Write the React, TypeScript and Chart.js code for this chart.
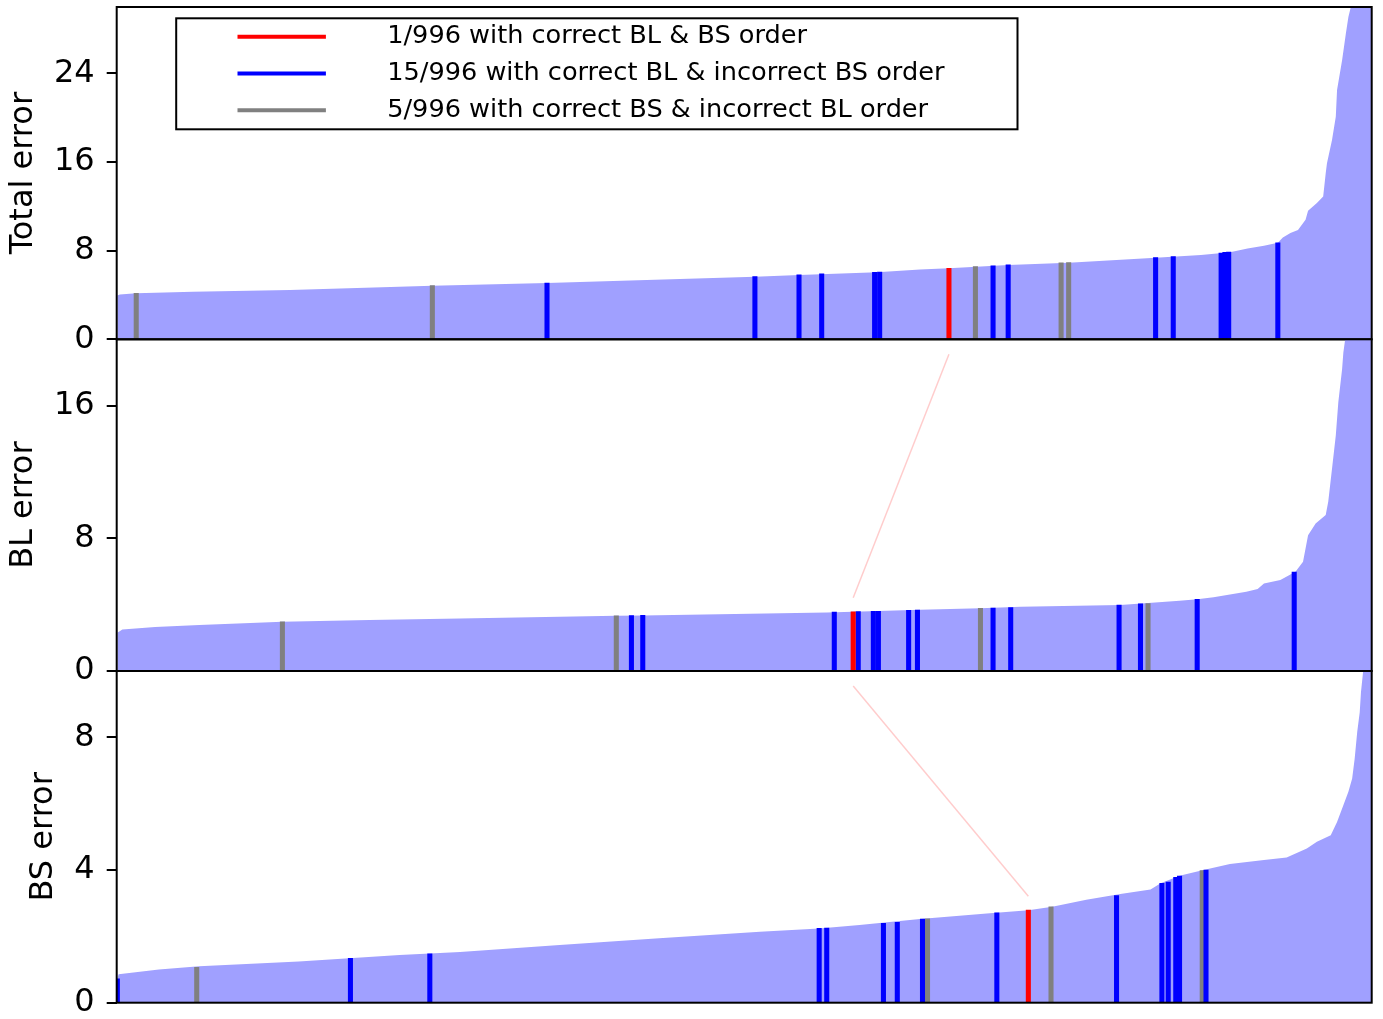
import React, { useEffect, useRef } from 'react';
import { Chart, registerables } from 'chart.js';

Chart.register(...registerables);

// ---------------- data (sample index -> sorted error) ----------------
// Panel 1: Total error
const totalIdx = [0, 2, 15, 60, 137, 250, 341, 420, 506, 541, 603, 637, 660, 707, 755, 824, 860, 883, 897, 910, 921, 925, 931, 937, 943, 945, 952, 957, 959, 960, 964, 967, 968, 972, 975, 977, 980, 988, 995];
const totalVal = [3.95, 4.05, 4.15, 4.3, 4.45, 4.84, 5.08, 5.35, 5.65, 5.8, 6.05, 6.3, 6.41, 6.7, 6.92, 7.36, 7.62, 7.85, 8.2, 8.45, 8.72, 9.2, 9.6, 9.86, 10.8, 11.6, 12.3, 12.9, 15.0, 15.9, 18.0, 20.1, 22.5, 25.2, 27.6, 29.1, 30.5, 33, 38];

// Panel 2: BL error
const blIdx = [0, 4, 30, 65, 131, 200, 272, 396, 417, 563, 584, 637, 685, 717, 796, 843, 857, 870, 896, 905, 910, 923, 935, 941, 945, 951, 959, 961, 964, 967, 969, 972, 973, 975, 995];
const blVal = [2.3, 2.5, 2.65, 2.77, 2.97, 3.08, 3.17, 3.33, 3.35, 3.53, 3.57, 3.7, 3.78, 3.87, 3.98, 4.23, 4.32, 4.45, 4.78, 4.95, 5.28, 5.48, 5.98, 6.58, 8.19, 8.9, 9.4, 10.2, 12.2, 14.2, 16.2, 18.2, 19.2, 20.3, 26];

// Panel 3: BS error
const bsIdx = [0, 1, 33, 65, 144, 224, 272, 351, 430, 510, 557, 589, 637, 690, 723, 742, 769, 796, 820, 828, 843, 862, 883, 910, 928, 944, 952, 963, 968, 973, 977, 980, 982, 984, 986, 987, 989, 995];
const bsVal = [0.72, 0.86, 1.0, 1.1, 1.24, 1.44, 1.53, 1.74, 1.94, 2.14, 2.24, 2.34, 2.52, 2.69, 2.79, 2.89, 3.1, 3.28, 3.41, 3.6, 3.83, 4.0, 4.18, 4.3, 4.38, 4.65, 4.85, 5.05, 5.45, 5.95, 6.36, 6.76, 7.36, 8.16, 8.76, 9.37, 10.1, 13];

// Highlighted samples
const totalRedIdx = [660];
const totalRedVal = [6.41];
const totalBlueIdx = [341, 506, 541, 559, 601, 605, 695, 707, 824, 838, 876, 879, 882, 921];
const totalBlueVal = [5.08, 5.66, 5.82, 5.9, 6.05, 6.07, 6.64, 6.72, 7.38, 7.47, 7.78, 7.85, 7.87, 8.72];
const totalGrayIdx = [15, 250, 681, 749, 755];
const totalGrayVal = [4.15, 4.84, 6.56, 6.9, 6.93];

const blRedIdx = [584];
const blRedVal = [3.57];
const blBlueIdx = [408, 417, 569, 588, 600, 604, 628, 635, 695, 709, 795, 812, 857, 934];
const blBlueVal = [3.34, 3.35, 3.55, 3.58, 3.6, 3.6, 3.66, 3.67, 3.8, 3.82, 3.97, 4.05, 4.32, 5.96];
const blGrayIdx = [131, 396, 685, 818];
const blGrayVal = [2.97, 3.33, 3.78, 4.07];

const bsRedIdx = [723];
const bsRedVal = [2.79];
const bsBlueIdx = [0, 185, 248, 557, 563, 608, 619, 639, 698, 793, 829, 834, 840, 843, 864];
const bsBlueVal = [0.72, 1.34, 1.47, 2.24, 2.25, 2.39, 2.42, 2.52, 2.71, 3.23, 3.6, 3.64, 3.78, 3.82, 4.0];
const bsGrayIdx = [63, 643, 741, 861];
const bsGrayVal = [1.07, 2.53, 2.89, 3.98];

const legendLabels = [
  '1/996 with correct BL & BS order',
  '15/996 with correct BL & incorrect BS order',
  '5/996 with correct BS & incorrect BL order',
];

const axisTitles = ['Total error', 'BL error', 'BS error'];
const axisMax = [30, 20, 10];
const axisStep = [8, 8, 4];

// ---------------- styles ----------------
const W = 1383;
const H = 1019;
const FONT = '"DejaVu Sans", "Liberation Sans", sans-serif';
const RED = '#ff0000';
const BLUE = '#0000ff';
const GRAY = '#808080';
const FILL = '#a0a0ff';
const PINK = 'rgba(255, 0, 0, 0.2)';
const legendColors = [RED, BLUE, GRAY];
const AXIS_FONT = 32;
const LEGEND_FONT = 25.6;

const panelTop = [7, 339.3, 671];
const panelBottom = [339.3, 671, 1002.7];
const titlePad = [4.3, 4.3, 24.8];

const pts = (xs: number[], ys: number[]) => xs.map((x, i) => ({ x, y: ys[i] }));

const framePlugin = {
  id: 'frame',
  afterDraw(chart: any) {
    const { ctx, chartArea: a } = chart;
    ctx.save();
    ctx.strokeStyle = '#000';
    ctx.lineWidth = 2;
    ctx.strokeRect(a.left, a.top, a.right - a.left, a.bottom - a.top);
    ctx.restore();
  },
};

const legendPlugin = {
  id: 'customLegend',
  afterDraw(chart: any) {
    const { ctx, chartArea: a } = chart;
    const bx = a.left + 59.5;
    const by = a.top + 11.3;
    const bw = 841.3;
    const bh = 111;
    ctx.save();
    ctx.fillStyle = '#fff';
    ctx.fillRect(bx, by, bw, bh);
    ctx.strokeStyle = '#000';
    ctx.lineWidth = 2;
    ctx.strokeRect(bx, by, bw, bh);
    ctx.font = `${LEGEND_FONT}px ${FONT}`;
    ctx.textBaseline = 'alphabetic';
    ctx.textAlign = 'left';
    legendLabels.forEach((label, i) => {
      const y = by + 18.4 + i * 36.8;
      ctx.strokeStyle = legendColors[i];
      ctx.lineWidth = 4;
      ctx.beginPath();
      ctx.moveTo(bx + 61.3, y);
      ctx.lineTo(bx + 149.7, y);
      ctx.stroke();
      ctx.fillStyle = '#000';
      ctx.fillText(label, bx + 211, y + 6.2);
    });
    ctx.restore();
  },
};

interface Panel {
  idx: number[];
  val: number[];
  red: { x: number; y: number }[];
  blue: { x: number; y: number }[];
  gray: { x: number; y: number }[];
}

const panels: Panel[] = [
  { idx: totalIdx, val: totalVal, red: pts(totalRedIdx, totalRedVal), blue: pts(totalBlueIdx, totalBlueVal), gray: pts(totalGrayIdx, totalGrayVal) },
  { idx: blIdx, val: blVal, red: pts(blRedIdx, blRedVal), blue: pts(blBlueIdx, blBlueVal), gray: pts(blGrayIdx, blGrayVal) },
  { idx: bsIdx, val: bsVal, red: pts(bsRedIdx, bsRedVal), blue: pts(bsBlueIdx, bsBlueVal), gray: pts(bsGrayIdx, bsGrayVal) },
];

function makeChart(canvas: HTMLCanvasElement, k: number, extra: any[]) {
  const p = panels[k];
  const barDs = (data: any[], color: string) => ({
    type: 'bar' as const,
    data,
    backgroundColor: color,
    borderWidth: 0,
    barThickness: 4.4,
    grouped: false,
    order: 0,
  });
  return new Chart(canvas, {
    type: 'line',
    data: {
      datasets: [
        barDs(p.red, RED),
        barDs(p.blue, BLUE),
        barDs(p.gray, GRAY),
        {
          type: 'line' as const,
          data: pts(p.idx, p.val),
          fill: 'origin',
          backgroundColor: FILL,
          borderWidth: 0,
          borderColor: 'rgba(0,0,0,0)',
          pointRadius: 0,
          tension: 0,
          order: 5,
        } as any,
      ],
    },
    options: {
      responsive: false,
      animation: false,
      events: [],
      layout: {
        padding: { left: 0, right: W - 1371.7, top: panelTop[k], bottom: H - panelBottom[k] },
      },
      plugins: { legend: { display: false }, tooltip: { enabled: false } },
      scales: {
        x: { type: 'linear', min: -0.5, max: 995.5, display: false, offset: false },
        y: {
          type: 'linear',
          position: 'left',
          min: 0,
          max: axisMax[k],
          ticks: {
            stepSize: axisStep[k],
            includeBounds: false,
            color: '#000',
            padding: 12,
            font: { family: FONT, size: AXIS_FONT },
          },
          grid: { drawOnChartArea: false, drawTicks: true, tickLength: 10, color: '#000', lineWidth: 2 },
          border: { display: false },
          title: {
            display: true,
            text: axisTitles[k],
            color: '#000',
            font: { family: FONT, size: AXIS_FONT },
            padding: { top: titlePad[k], bottom: 0 },
          },
          afterFit: (s: any) => {
            s.width = 116.7;
            s.paddingTop = 0;
            s.paddingBottom = 0;
          },
        } as any,
      },
    },
    plugins: [framePlugin, ...extra],
  });
}

export default function App() {
  const c1 = useRef<HTMLCanvasElement>(null);
  const c2 = useRef<HTMLCanvasElement>(null);
  const c3 = useRef<HTMLCanvasElement>(null);

  useEffect(() => {
    const charts: Chart[] = [];
    const connectPlugin = {
      id: 'connect',
      afterDraw(chart: any) {
        if (charts.length < 2) return;
        const all = [charts[0], charts[1], chart];
        const ctx = chart.ctx;
        ctx.save();
        ctx.strokeStyle = PINK;
        ctx.lineWidth = 1.5;
        for (let k = 0; k < 2; k++) {
          const a = all[k];
          const b = all[k + 1];
          const pa = panels[k].red[0];
          const pb = panels[k + 1].red[0];
          const x1 = a.scales.x.getPixelForValue(pa.x);
          const y1 = a.scales.y.getPixelForValue(0) + 15;
          const x2 = b.scales.x.getPixelForValue(pb.x);
          const y2 = b.scales.y.getPixelForValue(pb.y) - 14;
          ctx.beginPath();
          ctx.moveTo(x1, y1);
          ctx.lineTo(x2, y2);
          ctx.stroke();
        }
        ctx.restore();
      },
    };
    charts.push(makeChart(c1.current!, 0, [legendPlugin]));
    charts.push(makeChart(c2.current!, 1, []));
    charts.push(makeChart(c3.current!, 2, [connectPlugin]));
    return () => {
      charts.forEach((c) => c.destroy());
    };
  }, []);

  const cs: React.CSSProperties = { position: 'absolute', left: 0, top: 0, width: W, height: H };
  return (
    <div style={{ position: 'absolute', left: 0, top: 0, width: W, height: H, background: '#fff' }}>
      <canvas ref={c1} width={W} height={H} style={cs} />
      <canvas ref={c2} width={W} height={H} style={cs} />
      <canvas ref={c3} width={W} height={H} style={cs} />
    </div>
  );
}
